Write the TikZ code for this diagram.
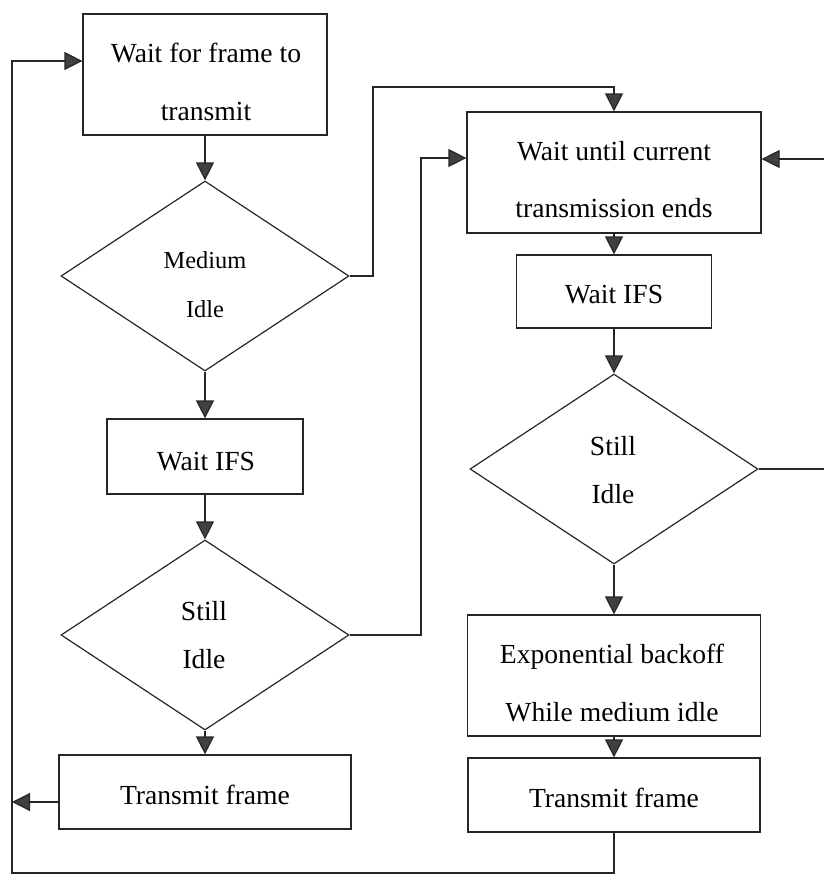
\documentclass[tikz,border=0pt]{standalone}
\usepackage{fontspec}
\setmainfont{Liberation Serif}
\usetikzlibrary{arrows.meta,shapes.geometric}

\tikzset{
  box/.style={draw=black!85, line width=1.2pt, rectangle, inner sep=0pt},
  decision/.style={draw=black!85, line width=1.2pt, diamond, inner sep=0pt,
    minimum width=288pt, minimum height=190pt},
  txt/.style={inner sep=0pt, anchor=base, text=black,
    font=\fontsize{27.6}{31}\selectfont},
  smalltxt/.style={txt, font=\fontsize{24.4}{28}\selectfont},
  flow/.style={draw=black!85, line width=1.2pt,
    -{Triangle[length=18pt,width=18pt,fill=black!75]}},
}

\begin{document}
\begin{tikzpicture}[x=1pt,y=-1pt]
\useasboundingbox (0,0) rectangle (823,875);

% left column
\node[box, minimum width=244pt, minimum height=121pt] (ws) at (205,74.5) {};
\node[decision] (mi) at (205,276) {};
\node[box, minimum width=196pt, minimum height=75pt] (ifsL) at (205,456.5) {};
\node[decision] (siL) at (205,635) {};
\node[box, minimum width=292pt, minimum height=74pt] (txL) at (205,792) {};

% right column
\node[box, minimum width=294pt, minimum height=121pt] (wu) at (614,172.5) {};
\node[box, minimum width=195pt, minimum height=73pt] (ifsR) at (614,291.5) {};
\node[decision] (siR) at (614,469) {};
\node[box, minimum width=293pt, minimum height=121pt] (exp) at (614,675.5) {};
\node[box, minimum width=292pt, minimum height=74pt] (txR) at (614,795) {};

% labels
\node[txt] (ws1) at (206,63) {Wait for frame to};
\node[txt] (ws2) at (206,120) {transmit};
\node[smalltxt] (mi1) at (205,268) {Medium};
\node[smalltxt] (mi2) at (205,317) {Idle};
\node[txt] (ifsL1) at (206,470) {Wait IFS};
\node[txt] (siL1) at (204,620) {Still};
\node[txt] (siL2) at (204,668) {Idle};
\node[txt] (txL1) at (205,804) {Transmit frame};

\node[txt] (wu1) at (614,160) {Wait until current};
\node[txt] (wu2) at (614,217) {transmission ends};
\node[txt] (ifsR1) at (614,303) {Wait IFS};
\node[txt] (siR1) at (613,455) {Still};
\node[txt] (siR2) at (613,503) {Idle};
\node[txt] (exp1) at (612,663) {Exponential backoff};
\node[txt] (exp2) at (612,721) {While medium idle};
\node[txt] (txR1) at (614,807) {Transmit frame};

% bends of the connectors
\coordinate (c1) at (373,87);
\coordinate (c2) at (421,158);
\coordinate (c3) at (826,159);
\coordinate (c4) at (12,802);
\coordinate (c5) at (12,873);
\coordinate (c6) at (12,61);

% left column flow
\draw[flow] (ws.south) -- (mi.north);
\draw[flow] (mi.south) -- (ifsL.north);
\draw[flow] (ifsL.south) -- (siL.north);
\draw[flow] (siL.south) -- (txL.north);
\draw[flow] (c4 -| txL.west) -- (c4);

% right column flow
\draw[flow] (wu.south) -- (ifsR.north);
\draw[flow] (ifsR.south) -- (siR.north);
\draw[flow] (siR.south) -- (exp.north);
\draw[flow] (exp.south) -- (txR.north);

% cross links
\draw[flow] (mi.east) -| (c1) -- (c1 -| wu.north) -- (wu.north);
\draw[flow] (siL.east) -| (c2) -- (c2 -| wu.west);
\draw[flow] (siR.east) -| (c3) -- (c3 -| wu.east);
\draw[flow] (txR.south) |- (c5) -- (c6) -- (c6 -| ws.west);
\end{tikzpicture}
\end{document}
